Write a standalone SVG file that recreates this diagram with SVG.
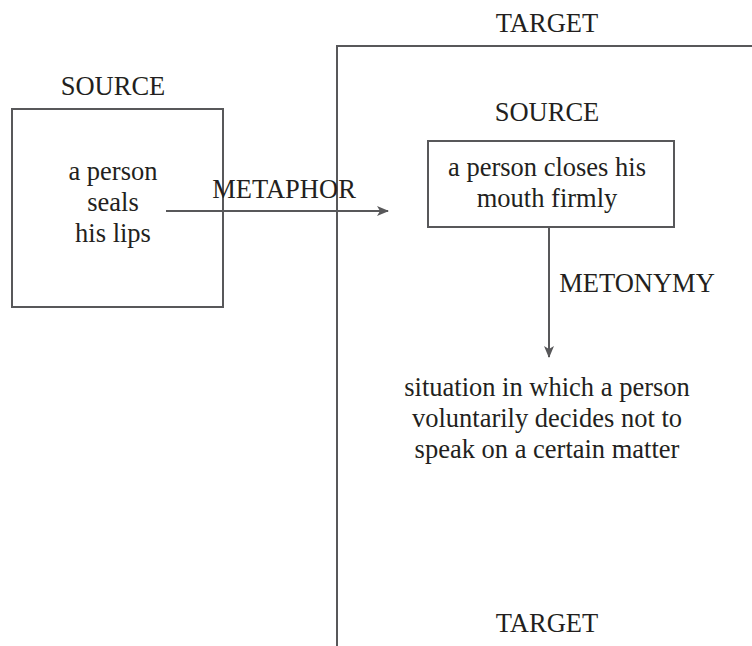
<svg xmlns="http://www.w3.org/2000/svg" width="752" height="646" viewBox="0 0 752 646">
<style>
text{font-family:"Liberation Serif","Times New Roman",serif;font-size:26.5px;fill:#231f20;text-anchor:middle}
.box{fill:none;stroke:#58585a;stroke-width:2}
.conn{fill:none;stroke:#58585a;stroke-width:2}
</style>
<defs>
<marker id="ah" viewBox="0 0 12 10" refX="11" refY="5" markerWidth="12" markerHeight="10" markerUnits="userSpaceOnUse" orient="auto">
<path d="M0,0 L12,5 L0,10 L3,5 Z" fill="#58585a"/>
</marker>
</defs>
<g id="target-frame">
<path class="box" d="M752,46 H337 V646"/>
<text x="547" y="32">TARGET</text>
<text x="547" y="632">TARGET</text>
</g>
<g id="outer-source">
<text x="113" y="95">SOURCE</text>
<rect class="box" x="12" y="109" width="211" height="198"/>
<text x="113" y="180">a person</text>
<text x="113" y="211">seals</text>
<text x="113" y="242">his lips</text>
</g>
<g id="inner-source">
<text x="547" y="121">SOURCE</text>
<rect class="box" x="428" y="141" width="246" height="86"/>
<text x="547" y="176">a person closes his</text>
<text x="547" y="207">mouth firmly</text>
</g>
<g id="situation">
<text x="547" y="396">situation in which a person</text>
<text x="547" y="427">voluntarily decides not to</text>
<text x="547" y="458">speak on a certain matter</text>
</g>
<g id="connectors">
<line class="conn" x1="166" y1="211" x2="388" y2="211" marker-end="url(#ah)"/>
<text x="284" y="198">METAPHOR</text>
<line class="conn" x1="549" y1="227" x2="549" y2="357" marker-end="url(#ah)"/>
<text x="637" y="292">METONYMY</text>
</g>
</svg>
